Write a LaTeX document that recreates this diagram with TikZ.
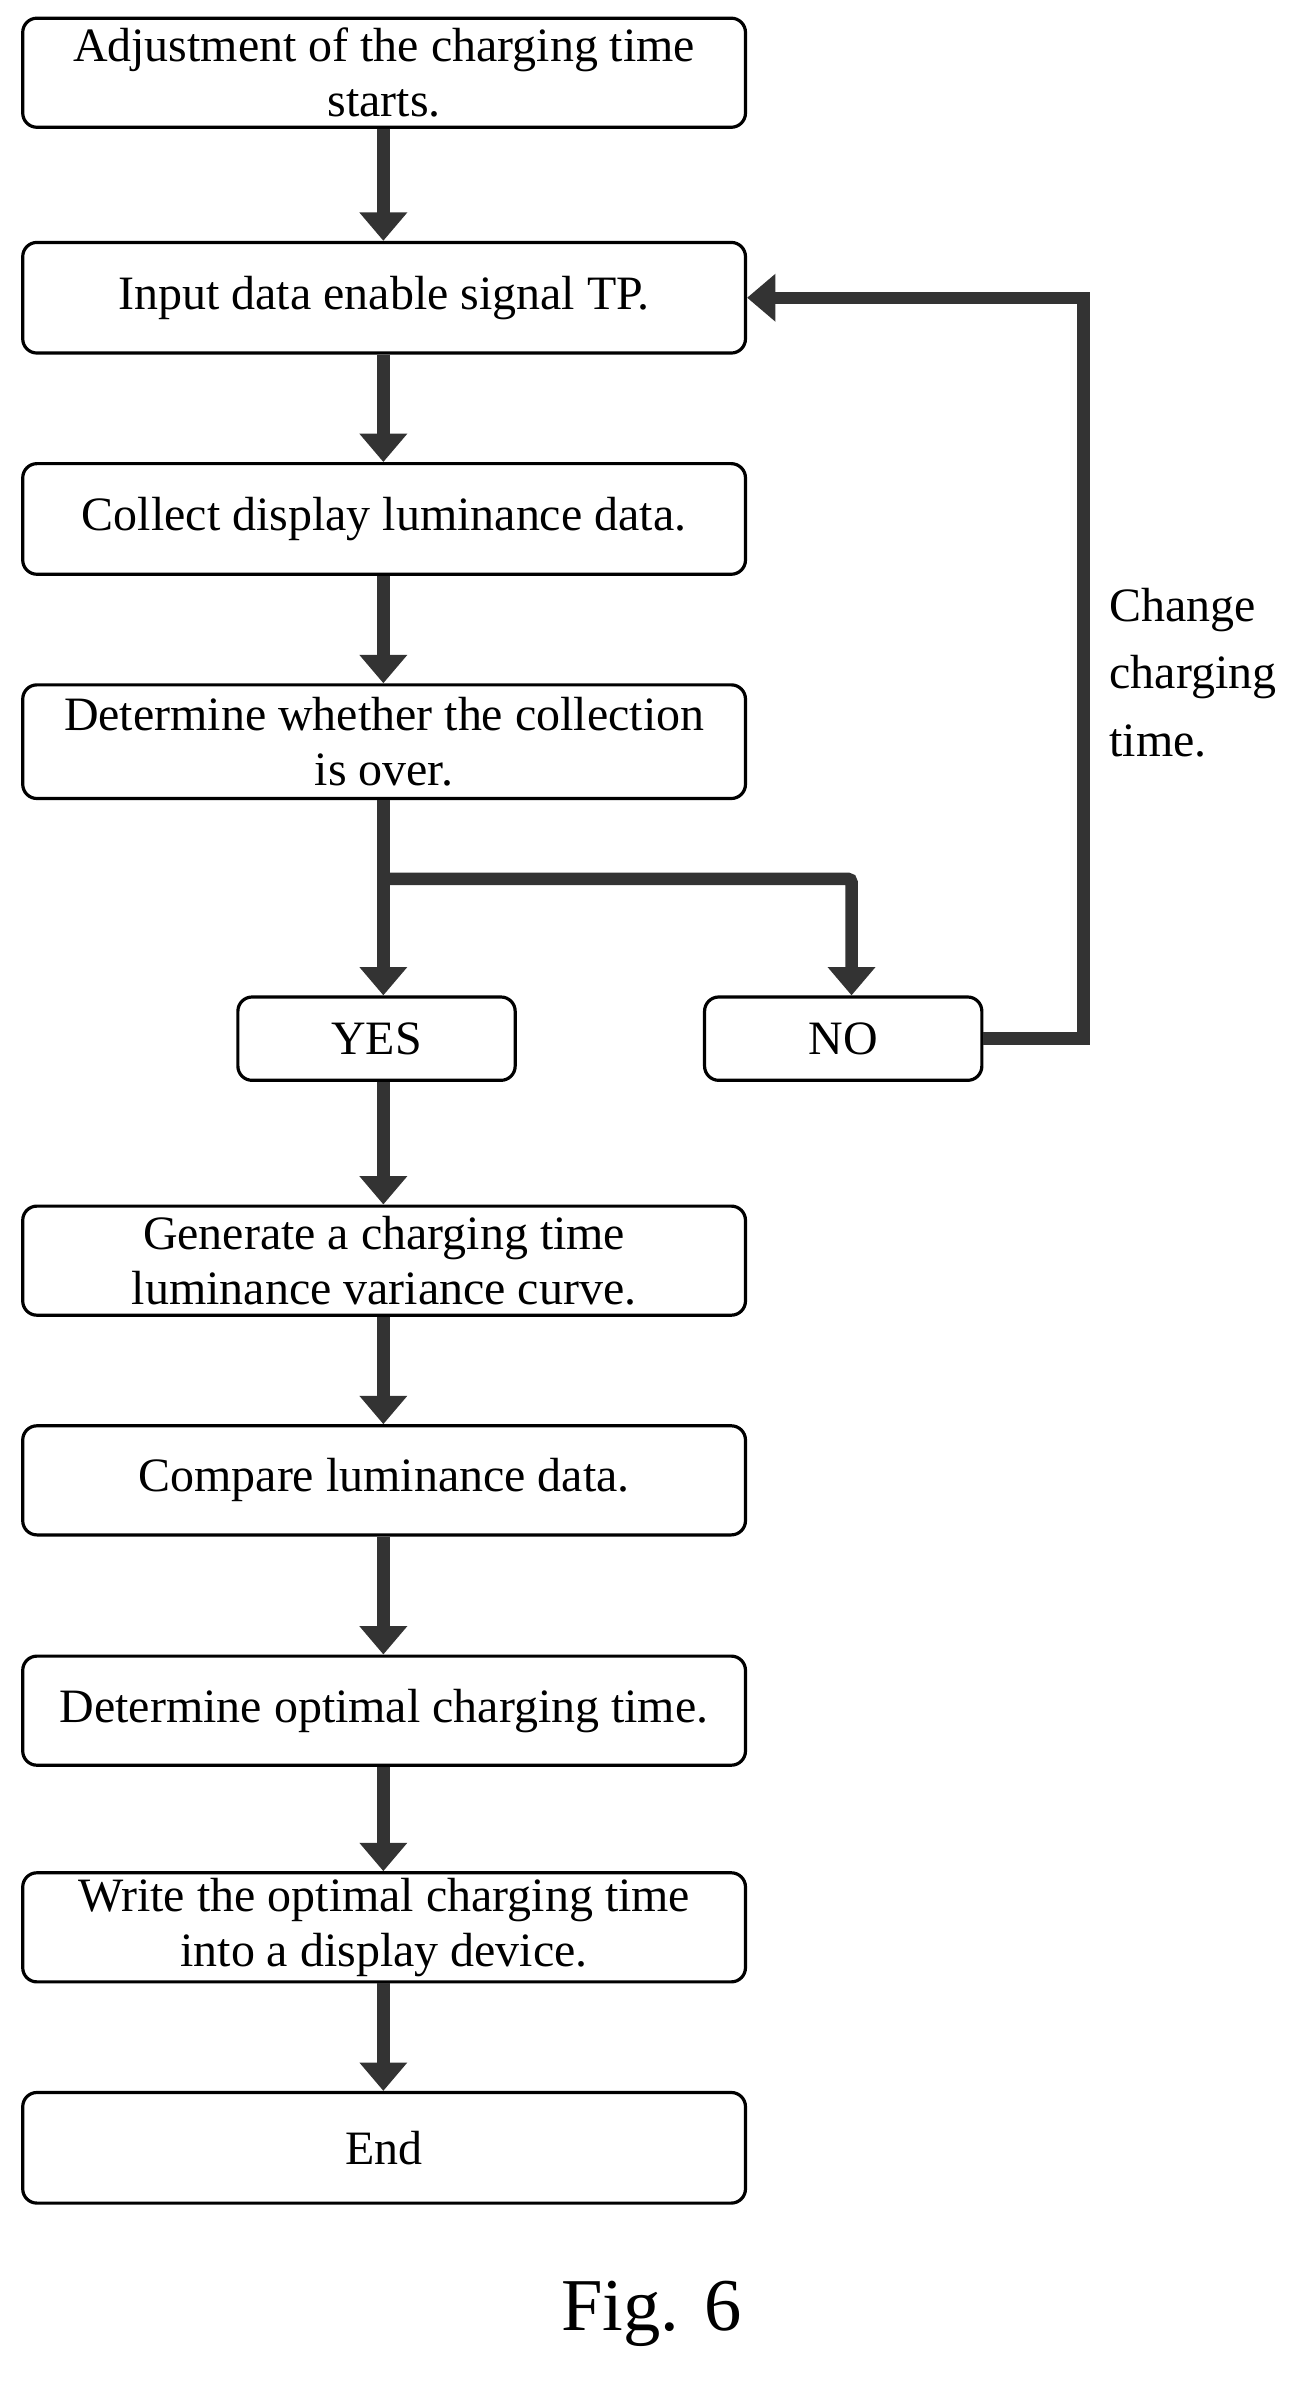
\documentclass[tikz,border=0pt]{standalone}
\usepackage{fontspec}
\setmainfont{Liberation Serif}
\usetikzlibrary{arrows.meta}
\begin{document}
\begin{tikzpicture}[x=0.03cm,y=-0.03cm,
  box/.style={draw,line width=1.8pt,rounded corners=8pt,align=center,font=\fontsize{27}{31}\selectfont,inner sep=0pt},
  arr/.style={line width=7pt,color=black!80,-{Triangle[length=16pt,width=26pt]}},
  ln/.style={line width=7pt,color=black!80}]
\useasboundingbox (0,0) rectangle (858,1580);
\newcommand\bx[6]{\node[box,minimum width=#3*0.03cm,minimum height=#4*0.03cm] (#1) at (#2,#5) {#6};}
\bx{b1}{253.5}{477}{72}{48}{Adjustment of the charging time\\starts.}
\bx{b2}{253.5}{477}{73}{196.5}{Input data enable signal TP.}
\bx{b3}{253.5}{477}{73}{342.5}{Collect display luminance data.}
\bx{b4}{253.5}{477}{75}{489.5}{Determine whether the collection\\is over.}
\bx{yes}{248.5}{183}{55}{685.5}{YES}
\bx{no}{556.5}{183}{55}{685.5}{NO}
\bx{b6}{253.5}{477}{72}{832}{Generate a charging time\\luminance variance curve.}
\bx{b7}{253.5}{477}{72}{977}{Compare luminance data.}
\bx{b8}{253.5}{477}{72}{1129}{Determine optimal charging time.}
\bx{b9}{253.5}{477}{72}{1272}{Write the optimal charging time\\into a display device.}
\bx{b10}{253.5}{477}{73}{1417.5}{End}
\coordinate (x) at (253,580);
\coordinate (xr) at (562,580);
\coordinate (r1) at (715,685.5);
\coordinate (r2) at (715,196.5);
\draw[arr] (b1.south-|253,0) -- (b2.north-|253,0);
\draw[arr] (b2.south-|253,0) -- (b3.north-|253,0);
\draw[arr] (b3.south-|253,0) -- (b4.north-|253,0);
\draw[arr] (b4.south-|253,0) -- (yes.north-|253,0);
\draw[arr,rounded corners=2pt] (x) -- (xr) -- (no.north-|562,0);
\draw[arr] (yes.south-|253,0) -- (b6.north-|253,0);
\draw[arr] (b6.south-|253,0) -- (b7.north-|253,0);
\draw[arr] (b7.south-|253,0) -- (b8.north-|253,0);
\draw[arr] (b8.south-|253,0) -- (b9.north-|253,0);
\draw[arr] (b9.south-|253,0) -- (b10.north-|253,0);
\draw[arr] (no.east) -- (r1) -- (r2) -- (b2.east);
\node[align=left,anchor=north west,font=\fontsize{27}{38}\selectfont,inner sep=0pt] (lbl) at (732,388) {Change\\charging\\time.};
\node[font=\fontsize{42}{48}\selectfont] (fig) at (430,1527) {Fig. 6};
\end{tikzpicture}
\end{document}
